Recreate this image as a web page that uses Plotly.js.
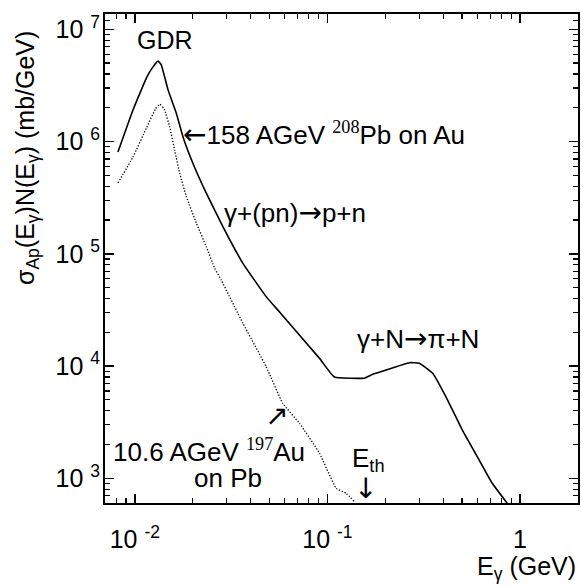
<!DOCTYPE html>
<html>
<head>
<meta charset="utf-8">
<script src="https://cdn.plot.ly/plotly-3.0.1.min.js"></script>
<style>body{margin:0;padding:0;background:#fff}</style>
</head>
<body>
<div id="chart" style="width:581px;height:587px"></div>
<script>
// 158 AGeV 208Pb on Au (solid)
var pbEnergy = [0.00817, 0.00977, 0.01154, 0.0124, 0.0132, 0.0137, 0.01489, 0.01644, 0.01779, 0.02004, 0.02353, 0.0287, 0.0364, 0.0483, 0.0564, 0.091, 0.1087, 0.1556, 0.172, 0.2015, 0.266, 0.300, 0.352, 0.412, 0.502, 0.613, 0.716, 0.859];
var pbFlux   = [8.05e5, 1.9e6, 3.75e6, 4.6e6, 5.2e6, 4.85e6, 2.87e6, 1.78e6, 1.10e6, 6.38e5, 3.45e5, 1.74e5, 8.22e4, 4.11e4, 3.03e4, 1.17e4, 7.98e3, 7.8e3, 8.43e3, 9.21e3, 1.07e4, 1.06e4, 8.61e3, 5.33e3, 2.69e3, 1.46e3, 908, 598];
// 10.6 AGeV 197Au on Pb (dotted)
var auEnergy = [0.00817, 0.00977, 0.01154, 0.0128, 0.01349, 0.0142, 0.01517, 0.0161, 0.0171, 0.01853, 0.02089, 0.02353, 0.0260, 0.0281, 0.0364, 0.0481, 0.0586, 0.0716, 0.091, 0.111, 0.125, 0.138];
var auFlux   = [4.27e5, 7.26e5, 1.34e6, 1.95e6, 2.15e6, 1.95e6, 1.35e6, 8.37e5, 5.2e5, 3.22e5, 1.87e5, 1.15e5, 7.41e4, 5.83e4, 2.40e4, 9.86e3, 4.66e3, 3.09e3, 1.67e3, 815, 735, 620];

var xTickVals = [0.01, 0.1, 1];
var xTickText = ['10 <sup>-2</sup>', '10 <sup>-1</sup>', '1'];
var yTickVals = [1e3, 1e4, 1e5, 1e6, 1e7];
var yTickText = ['10 <sup>3</sup>', '10 <sup>4</sup>', '10 <sup>5</sup>', '10 <sup>6</sup>', '10 <sup>7</sup>'];
var xMinorVals = [0.007, 0.008, 0.009, 0.02, 0.03, 0.04, 0.05, 0.06, 0.07, 0.08, 0.09, 0.2, 0.3, 0.4, 0.5, 0.6, 0.7, 0.8, 0.9, 2];
var yMinorVals = [700, 800, 900, 2e3, 3e3, 4e3, 5e3, 6e3, 7e3, 8e3, 9e3, 2e4, 3e4, 4e4, 5e4, 6e4, 7e4, 8e4, 9e4,
                  2e5, 3e5, 4e5, 5e5, 6e5, 7e5, 8e5, 9e5, 2e6, 3e6, 4e6, 5e6, 6e6, 7e6, 8e6, 9e6, 1.2e7];

var FONT = 'Liberation Sans, Arial, Helvetica, sans-serif';
var SERIF = 'Liberation Serif, Times New Roman, serif';
var ARW = 'DejaVu Sans, sans-serif';
function arrow(ch){ return '<span style="font-family:' + ARW + ';font-size:28px">' + ch + '</span>'; }
function serifSup(t){ return '<sup><span style="font-family:' + SERIF + '">' + t + '</span></sup>'; }

var L = 105, R = 578, T = 14, B = 503;
function px(x){ return (x - L) / (R - L); }
function py(y){ return (B - y) / (B - T); }

var traces = [
  {x: pbEnergy, y: pbFlux, type: 'scatter', mode: 'lines', line: {color: '#000', width: 1.6, shape: 'spline', smoothing: 0.35}, hoverinfo: 'skip'},
  {x: auEnergy, y: auFlux, type: 'scatter', mode: 'lines', line: {color: '#000', width: 1.3, dash: '1.3px,1.7px', shape: 'spline', smoothing: 0.35}, hoverinfo: 'skip'}
];

function ann(text, x, y, xa, size, extra){
  var a = {text: text, xref: 'paper', yref: 'paper', x: px(x), y: py(y), xanchor: xa || 'center', yanchor: 'middle', showarrow: false, font: {family: FONT, size: size || 26, color: '#000'}};
  if (extra) for (var k in extra) a[k] = extra[k];
  return a;
}

var annotations = [
  ann('GDR', 165, 40, 'center', 25),
  ann(arrow('\u2190') + '158 AGeV ' + serifSup('208') + 'Pb on Au', 181, 134, 'left', 26),
  ann('\u03b3+(pn)' + arrow('\u2192') + 'p+n', 222, 212, 'left', 26),
  ann('\u03b3+N' + arrow('\u2192') + '\u03c0+N', 355, 338, 'left', 26),
  ann(arrow('\u2197'), 276, 415, 'center', 26),
  ann('10.6 AGeV ' + serifSup('197') + 'Au', 111, 450, 'left', 26),
  ann('on Pb', 228, 478, 'center', 26),
  ann('E<sub>th</sub>', 350, 459, 'left', 26),
  ann(arrow('\u2193'), 365, 488, 'center', 26),
  ann('E<sub>\u03b3</sub> (GeV)', 578, 568, 'right', 25),
  ann('\u03c3<sub>Ap</sub>(E<sub>\u03b3</sub>)N(E<sub>\u03b3</sub>) (mb/GeV)', 27, 158, 'center', 25, {textangle: -90})
];

function axis(range, tv, tt, mv, standoff){
  return {
    type: 'log', range: range, showgrid: false, zeroline: false, showline: true, linecolor: '#000', linewidth: 2,
    mirror: 'ticks', ticks: 'inside', ticklen: 9, tickwidth: 1.5, tickcolor: '#000',
    tickmode: 'array', tickvals: tv, ticktext: tt, ticklabelstandoff: standoff,
    tickfont: {family: FONT, size: 25, color: '#000'},
    minor: {tickmode: 'array', tickvals: mv, ticks: 'inside', ticklen: 5, tickwidth: 1.2, tickcolor: '#000', showgrid: false}
  };
}

var layout = {
  width: 581, height: 587,
  margin: {l: L, r: 581 - R, t: T, b: 587 - B},
  paper_bgcolor: '#fff', plot_bgcolor: '#fff',
  showlegend: false,
  font: {family: FONT, color: '#000'},
  xaxis: axis([Math.log10(0.007), Math.log10(2)], xTickVals, xTickText, xMinorVals, 13),
  yaxis: axis([2.78, 7.136], yTickVals, yTickText, yMinorVals, -2),
  annotations: annotations
};

Plotly.newPlot('chart', traces, layout, {staticPlot: true, displayModeBar: false});
</script>
</body>
</html>
